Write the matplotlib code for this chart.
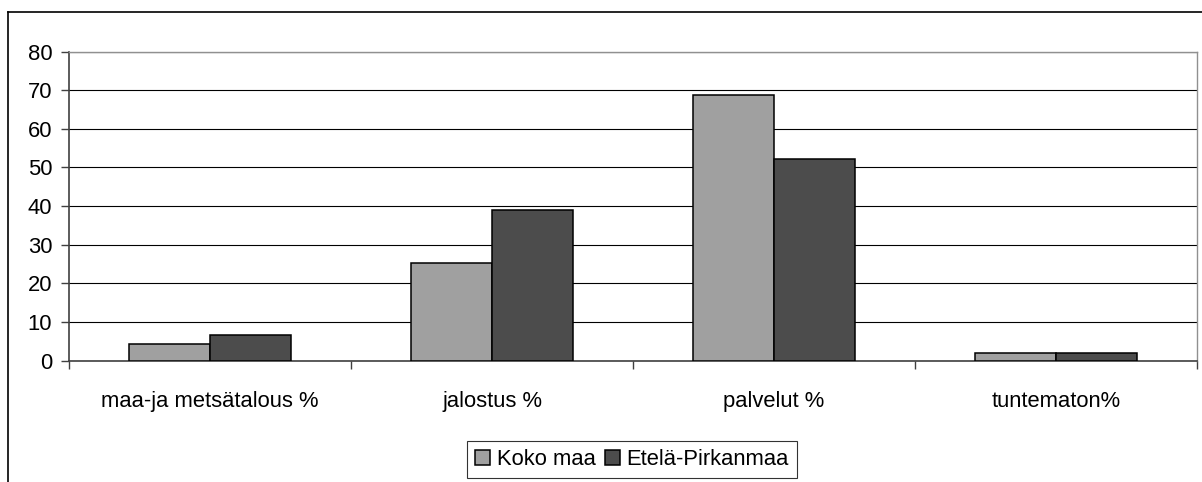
import numpy as np
import matplotlib
matplotlib.use('Agg')
from matplotlib import pyplot as plt
from matplotlib.lines import Line2D

plt.rcParams['font.family'] = ['Liberation Sans', 'DejaVu Sans']

categories = ['maa-ja metsätalous %', 'jalostus %', 'palvelut %', 'tuntematon%']
koko_maa = [4.2, 25.2, 68.7, 1.9]
etela_pirkanmaa = [6.6, 39.0, 52.3, 1.9]
series_names = ['Koko maa', 'Etelä-Pirkanmaa']
y_ticks = [0, 10, 20, 30, 40, 50, 60, 70, 80]

fig = plt.figure(figsize=(12.02, 4.82), dpi=100)
ax = fig.add_axes([69 / 1202, 1 - 360.7 / 482, (1197 - 69) / 1202, (360.7 - 51.5) / 482])

x = np.arange(len(categories))
w = 0.287
b1 = ax.bar(x - w / 2, koko_maa, w, color='#a0a0a0', edgecolor='black', linewidth=1.1, zorder=3)
b2 = ax.bar(x + w / 2, etela_pirkanmaa, w, color='#4c4c4c', edgecolor='black', linewidth=1.1, zorder=3)

ax.set_xlim(-0.5, len(categories) - 0.5)
ax.set_ylim(0, 80)
ax.set_yticks(y_ticks)
ax.yaxis.grid(True, color='black', linewidth=0.8)
ax.set_axisbelow(True)

# category labels at centers, ticks at boundaries
ax.set_xticks(x)
ax.set_xticklabels(categories)
ax.set_xticks(np.arange(len(categories) + 1) - 0.5, minor=True)
ax.tick_params(axis='x', which='major', length=0, pad=22, labelsize=15.8)
ax.tick_params(axis='x', which='minor', length=6, width=1, color='#404040', direction='out')
ax.tick_params(axis='y', length=6, width=1, color='#404040', pad=6, labelsize=15.8)

for s in ['left', 'bottom']:
    ax.spines[s].set_color('#404040')
    ax.spines[s].set_linewidth(1.2)
for s in ['top', 'right']:
    ax.spines[s].set_color('#909090')
    ax.spines[s].set_linewidth(1.0)

leg = fig.legend([b1, b2], series_names, loc='center', bbox_to_anchor=(632 / 1202, 1 - 459.5 / 482),
                 ncol=2, frameon=True, fancybox=False, fontsize=15.8, handlelength=0.7,
                 handleheight=0.7, handletextpad=0.3, columnspacing=0.4, borderpad=0.35,
                 borderaxespad=0)
leg.get_frame().set_edgecolor('black')
leg.get_frame().set_linewidth(0.8)

# outer chart frame
fig.add_artist(Line2D([8 / 1202, 8 / 1202], [0, 1 - 12 / 482], transform=fig.transFigure,
                      color='black', linewidth=1.2))
fig.add_artist(Line2D([8 / 1202, 1], [1 - 12 / 482, 1 - 12 / 482], transform=fig.transFigure,
                      color='black', linewidth=1.2))

fig.savefig('out.png', dpi=100)
